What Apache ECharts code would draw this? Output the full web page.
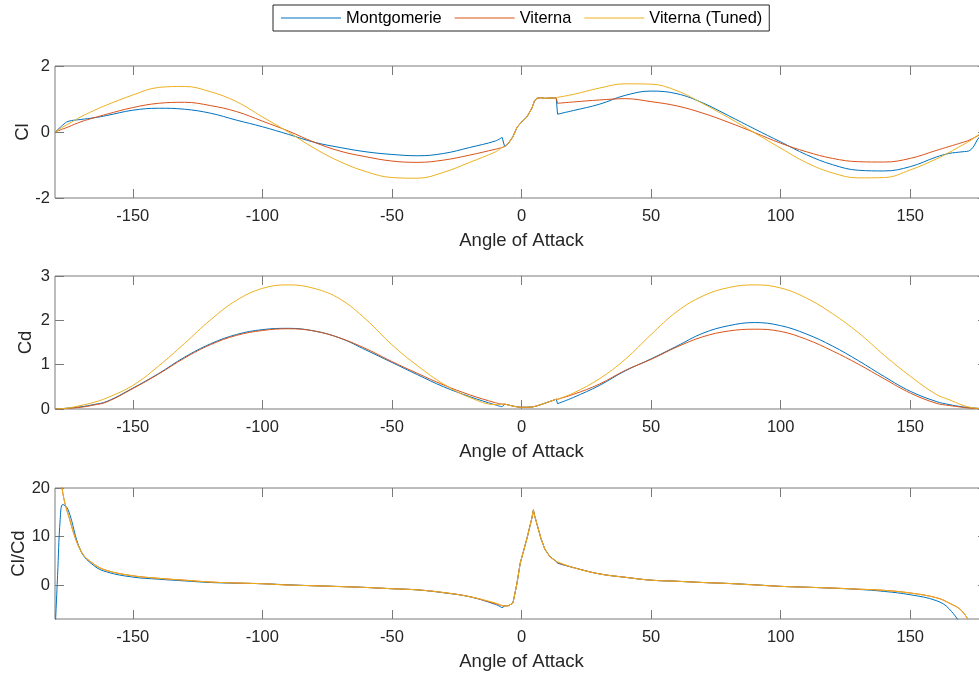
<!DOCTYPE html>
<html>
<head>
<meta charset="utf-8">
<script src="https://cdn.jsdelivr.net/npm/echarts@6/dist/echarts.min.js"></script>
<style>
html,body{margin:0;padding:0;background:#fff;}
#chart{width:979px;height:673px;}
</style>
</head>
<body>
<div id="chart"></div>
<script>
// ---- Data ----
const seriesNames = ['Montgomerie', 'Viterna', 'Viterna (Tuned)'];
const xTickLabels = [-150, -100, -50, 0, 50, 100, 150];
const clTicks = [-2, 0, 2];
const cdTicks = [0, 1, 2, 3];
const ratioTicks = [0, 10, 20];

const angLeft = [-180,-179,-178,-177,-175,-170,-165,-160,-150,-140,-130,-120,-110,-100,-90,-80,-70,-60,-50,-40,-30,-20,-10,-7.5];
const angMid = [-6.5,-5,-3.3,-1.8,-0.5,2.1,4.0,4.6,4.9,5.9,7.5,9,11,13.4];
const angRight = [13.9,20,30,40,50,60,70,80,90,100,110,120,130,140,150,160,165,170,173,177,180];

// Cl
const clMid = [-0.44,-0.34,-0.14,0.13,0.26,0.46,0.72,0.85,0.92,1.02,1.04,1.02,1.03,1.03];
const clMontL = [0,0.07,0.14,0.21,0.32,0.38,0.43,0.50,0.66,0.72,0.69,0.57,0.36,0.16,-0.07,-0.31,-0.47,-0.60,-0.68,-0.72,-0.65,-0.47,-0.27,-0.16];
const clVitL = [0,0.03,0.06,0.09,0.15,0.31,0.43,0.54,0.74,0.87,0.90,0.80,0.62,0.33,0.03,-0.31,-0.58,-0.75,-0.88,-0.92,-0.85,-0.70,-0.52,-0.47];
const clTunL = [0,0.05,0.10,0.15,0.24,0.46,0.65,0.82,1.12,1.35,1.38,1.22,0.92,0.46,0,-0.49,-0.90,-1.20,-1.38,-1.40,-1.22,-0.92,-0.60,-0.47];
const clMontR = [0.54,0.65,0.84,1.11,1.24,1.16,0.88,0.49,0.09,-0.30,-0.69,-0.99,-1.16,-1.18,-1.05,-0.76,-0.65,-0.60,-0.56,-0.12,0];
const clVitR = [0.87,0.91,0.97,1.01,0.92,0.79,0.57,0.29,-0.02,-0.34,-0.60,-0.80,-0.90,-0.91,-0.80,-0.56,-0.44,-0.32,-0.24,-0.08,0];
const clTunR = [1.05,1.14,1.33,1.46,1.45,1.25,0.86,0.43,-0.03,-0.49,-0.93,-1.24,-1.39,-1.38,-1.15,-0.82,-0.62,-0.40,-0.27,-0.06,0];

// Cd
const cdMid = [0.11,0.09,0.065,0.05,0.04,0.04,0.045,0.05,0.055,0.07,0.10,0.13,0.17,0.22];
const cdMontL = [0.005,0.006,0.008,0.01,0.02,0.05,0.10,0.17,0.47,0.80,1.17,1.47,1.68,1.79,1.82,1.76,1.60,1.33,1.05,0.77,0.50,0.28,0.09,0.05];
const cdVitL = [0,0.003,0.006,0.01,0.015,0.04,0.09,0.16,0.46,0.79,1.15,1.45,1.66,1.77,1.81,1.76,1.60,1.36,1.07,0.80,0.54,0.32,0.14,0.11];
const cdTunL = [0,0.003,0.006,0.01,0.02,0.08,0.15,0.25,0.53,0.97,1.48,2.01,2.45,2.72,2.80,2.72,2.48,2.02,1.45,0.97,0.56,0.26,0.10,0.105];
const cdMontR = [0.12,0.26,0.53,0.86,1.13,1.42,1.71,1.88,1.95,1.88,1.69,1.42,1.09,0.73,0.40,0.17,0.10,0.05,0.03,0.01,0];
const cdVitR = [0.22,0.33,0.56,0.87,1.12,1.40,1.63,1.76,1.80,1.75,1.57,1.31,1.01,0.68,0.36,0.13,0.08,0.04,0.02,0.01,0];
const cdTunR = [0.22,0.36,0.68,1.12,1.68,2.20,2.55,2.74,2.80,2.73,2.50,2.15,1.72,1.21,0.74,0.33,0.21,0.09,0.04,0.01,0];

// Cl/Cd
const ratioMid = [-4.3,-4.25,-3.7,0.2,4.5,9.6,13.8,15.5,14.6,12.7,9.6,7.4,5.8,4.9];
const ratioMontL = [-10,2,13.5,16.6,15.6,7.0,4.0,2.7,1.64,1.2,0.85,0.52,0.38,0.27,0.05,-0.15,-0.3,-0.5,-0.76,-1.0,-1.6,-2.4,-4.0,-4.7];
const ratioVitL = [40,32,24,19,14.7,7.0,4.3,3.0,1.91,1.38,1.0,0.62,0.42,0.27,0.0,-0.15,-0.32,-0.5,-0.76,-1.0,-1.55,-2.4,-3.85,-4.3];
const ratioTunL = [40,32,24,19,14.7,7.0,4.3,3.0,1.91,1.38,1.0,0.62,0.42,0.27,0.0,-0.15,-0.32,-0.5,-0.76,-1.0,-1.55,-2.4,-3.7,-4.2];
const ratioMontR = [4.5,3.6,2.3,1.6,1.0,0.78,0.52,0.32,0.05,-0.27,-0.45,-0.65,-0.9,-1.32,-2.0,-3.2,-4.9,-9,-16,-40,-80];
const ratioVitR = [4.6,3.6,2.3,1.6,1.0,0.78,0.52,0.32,0.02,-0.27,-0.45,-0.62,-0.85,-1.1,-1.64,-2.6,-3.7,-5.4,-8.5,-30,-60];
const ratioTunR = [4.8,3.6,2.3,1.6,1.0,0.78,0.52,0.32,0.02,-0.27,-0.45,-0.62,-0.85,-1.1,-1.64,-2.6,-3.7,-5.4,-8.5,-30,-60];

// ---- Chart ----
const colors = ['#0072BD', '#D95319', '#EDB120'];
const FONT = '"Liberation Sans", Arial, Helvetica, sans-serif';
const axisColor = '#7a7a7a';
const textColor = '#262626';

function zip(angles, values) { return angles.map((a, i) => [a, values[i]]); }

const grids = [
  { left: 55, top: 66, width: 933, height: 132 },
  { left: 55, top: 276, width: 933, height: 133 },
  { left: 55, top: 488, width: 933, height: 131 }
].map(g => Object.assign(g, { show: true, borderColor: axisColor, borderWidth: 1, backgroundColor: 'transparent', containLabel: false, outerBoundsMode: 'none' }));

const yDefs = [
  { name: 'Cl', min: -2, max: 2, ticks: clTicks, gap: 23 },
  { name: 'Cd', min: 0, max: 3, ticks: cdTicks, gap: 20 },
  { name: 'Cl/Cd', min: -7, max: 20, ticks: ratioTicks, gap: 27 }
];

const xAxes = [], yAxes = [];
for (let g = 0; g < 3; g++) {
  xAxes.push({
    gridIndex: g, type: 'value', min: -180, max: 180, position: 'bottom',
    axisLine: { show: false, onZero: false },
    axisTick: { inside: true, length: 9, lineStyle: { color: axisColor, width: 1 }, customValues: xTickLabels },
    axisLabel: { customValues: xTickLabels, fontSize: 16.5, color: textColor, fontFamily: FONT, margin: 10 },
    splitLine: { show: false },
    name: 'Angle of Attack', nameLocation: 'middle', nameGap: 33,
    nameTextStyle: { fontSize: 18.5, color: textColor, fontFamily: FONT }
  });
  xAxes.push({
    gridIndex: g, type: 'value', min: -180, max: 180, position: 'top',
    axisLine: { show: false, onZero: false },
    axisTick: { inside: true, length: 9, lineStyle: { color: axisColor, width: 1 }, customValues: xTickLabels },
    axisLabel: { show: false, customValues: xTickLabels },
    splitLine: { show: false }
  });
  const d = yDefs[g];
  yAxes.push({
    gridIndex: g, type: 'value', min: d.min, max: d.max, position: 'left',
    axisLine: { show: false, onZero: false },
    axisTick: { inside: true, length: 9, lineStyle: { color: axisColor, width: 1 }, customValues: d.ticks },
    axisLabel: { customValues: d.ticks, fontSize: 16.5, color: textColor, fontFamily: FONT, margin: 5, showMinLabel: true, showMaxLabel: true },
    splitLine: { show: false },
    name: d.name, nameLocation: 'middle', nameGap: d.gap, nameRotate: 90, nameMoveOverlap: false,
    nameTextStyle: { fontSize: 18.5, color: textColor, fontFamily: FONT }
  });
  yAxes.push({
    gridIndex: g, type: 'value', min: d.min, max: d.max, position: 'right',
    axisLine: { show: false, onZero: false },
    axisTick: { inside: true, length: 10, lineStyle: { color: axisColor, width: 1 }, customValues: d.ticks },
    axisLabel: { show: false, customValues: d.ticks },
    splitLine: { show: false }
  });
}

const plotData = [
  [[clMontL, clMid, clMontR], [clVitL, clMid, clVitR], [clTunL, clMid, clTunR]],
  [[cdMontL, cdMid, cdMontR], [cdVitL, cdMid, cdVitR], [cdTunL, cdMid, cdTunR]],
  [[ratioMontL, ratioMid, ratioMontR], [ratioVitL, ratioMid, ratioVitR], [ratioTunL, ratioMid, ratioTunR]]
];

const series = [];
function addPart(g, s, data, smooth) {
  series.push({
    name: seriesNames[s], type: 'line', xAxisIndex: g * 2, yAxisIndex: g * 2,
    data: data, symbol: 'none', showSymbol: false, smooth: smooth,
    clip: true, animation: false, z: 2 + s, silent: true,
    lineStyle: { color: colors[s], width: 1 }, itemStyle: { color: colors[s] }
  });
}
for (let g = 0; g < 3; g++) {
  for (let s = 0; s < 3; s++) {
    const [L, M, R] = plotData[g][s];
    const left = zip(angLeft, L), mid = zip(angMid, M), right = zip(angRight, R);
    addPart(g, s, left, 0.4);
    addPart(g, s, [left[left.length - 1], mid[0]], false);
    addPart(g, s, mid, false);
    addPart(g, s, [mid[mid.length - 1], right[0]], false);
    addPart(g, s, right, 0.4);
  }
}

const chart = echarts.init(document.getElementById('chart'), null, { renderer: 'canvas' });
chart.setOption({
  animation: false,
  backgroundColor: '#ffffff',
  color: colors,
  grid: grids,
  xAxis: xAxes,
  yAxis: yAxes,
  legend: {
    data: seriesNames.map(n => ({ name: n, icon: 'rect' })),
    left: 273, top: 5, orient: 'horizontal',
    itemWidth: 60, itemHeight: 1, itemGap: 13,
    padding: [4, 7, 4, 8],
    borderColor: '#262626', borderWidth: 1, backgroundColor: '#fff',
    textStyle: { fontSize: 16.4, color: '#000', fontFamily: FONT, lineHeight: 18 },
    selectedMode: false
  },
  series: series
});
</script>
</body>
</html>
